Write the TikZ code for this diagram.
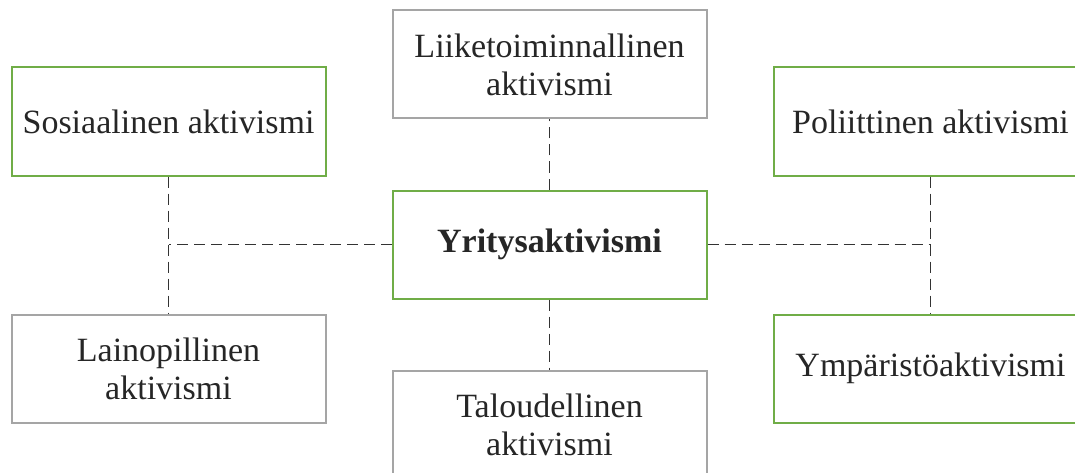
\documentclass[tikz,border=0pt]{standalone}
\usepackage{fontspec}
\setmainfont{Liberation Serif}
\usepackage{xcolor}
\usepackage{tikz}
\usetikzlibrary{positioning}

\definecolor{boxgreen}{HTML}{70AD47}
\definecolor{boxgray}{HTML}{A5A5A5}

\begin{document}
\begin{tikzpicture}[
    node distance=32.5pt,
    box/.style={rectangle, draw, line width=1pt, minimum width=157pt, minimum height=54pt, align=center, fill=white, text=black!85, font=\fontsize{17}{19}\selectfont},
    greenbox/.style={box, draw=boxgreen},
    graybox/.style={box, draw=boxgray},
    link/.style={draw=black!80, line width=0.6pt, dash pattern=on 5.5pt off 3pt}
]
    \clip (0,0) rectangle (537.5pt,236pt);
    \useasboundingbox (0,0) rectangle (537.5pt,236pt);

    % Nodes
    \node[greenbox] (yri) at (274.75pt,113.75pt) {\textbf{Yritysaktivismi}};
    \node[graybox, above=35pt of yri] (liike) {Liiketoiminnallinen\\aktivismi};
    \node[graybox, below=35pt of yri] (talous) {Taloudellinen\\aktivismi};
    \node[greenbox, left=of yri, yshift=61.5pt] (sosi) {Sosiaalinen aktivismi};
    \node[greenbox, right=of yri, yshift=61.5pt] (poli) {Poliittinen aktivismi};
    \node[graybox, left=of yri, yshift=-62pt] (laino) {Lainopillinen\\aktivismi};
    \node[greenbox, right=of yri, yshift=-62pt] (ympa) {Ympäristöaktivismi};

    % Links
    \draw[link] (yri.north) -- (liike.south);
    \draw[link] (yri.south) -- (talous.north);
    \draw[link] (sosi.south) -- (laino.north);
    \draw[link] (poli.south) -- (ympa.north);
    \draw[link] (yri.west) -- (yri.west -| sosi.south);
    \draw[link] (yri.east) -- (yri.east -| poli.south);
\end{tikzpicture}
\end{document}
